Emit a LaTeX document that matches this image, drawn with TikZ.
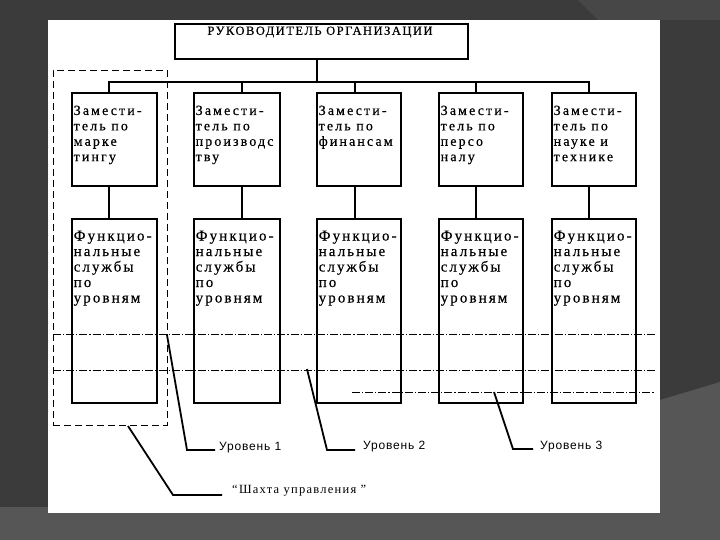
\documentclass[tikz,border=0pt]{standalone}
\usepackage{fontspec}
\setmainfont{Liberation Serif}
\newfontfamily\topfnt[LetterSpace=12,FakeBold=0.4]{Liberation Serif}
\newfontfamily\depfnt[LetterSpace=15,FakeBold=0.4]{Liberation Serif}
\newfontfamily\funfnt[LetterSpace=14,FakeBold=0.4]{Liberation Serif}
\newfontfamily\lvlfnt[LetterSpace=7]{Liberation Sans}
\newfontfamily\shfnt[LetterSpace=10]{Liberation Serif}
\definecolor{bgdark}{HTML}{3B3B3B}
\definecolor{bglight}{HTML}{565656}
\definecolor{bgmid}{HTML}{474747}
\begin{document}
\begin{tikzpicture}[x=1pt,y=-1pt,
  box/.style={draw=black, line width=1.6pt, inner sep=0pt, outer sep=0pt},
  ln/.style={line width=1.6pt, line cap=rect},
  lead/.style={line width=1.8pt},
  dashdot/.style={line width=0.7pt, dash pattern=on 8pt off 2pt on 1.2pt off 2pt},
  shaftbox/.style={draw=black, line width=0.9pt, dash pattern=on 7pt off 4pt, inner sep=0pt},
  dtext/.style={anchor=north west, align=left, inner sep=0pt, font=\depfnt\fontsize{14}{15.4}\selectfont},
  ftext/.style={anchor=north west, align=left, inner sep=0pt, font=\funfnt\fontsize{15}{15.5}\selectfont},
  lvl/.style={anchor=west, inner sep=0pt, font=\lvlfnt\fontsize{12}{14}\selectfont}]
\useasboundingbox (0,0) rectangle (720,540);
% background
\fill[bgdark] (0,0) rectangle (720,540);
\fill[bgmid] (578,0) -- (720,0) -- (720,20) -- (598,20) -- cycle;
\fill[bglight] (0,507) -- (660,507) -- (660,400) -- (720,382) -- (720,540) -- (0,540) -- cycle;
\fill[white] (48,20) rectangle (660,513);
% top box
\node[box, minimum width=293pt, minimum height=35pt] (top) at (321.5,41.5) {};
\node[inner sep=0pt, font=\topfnt\fontsize{12.5}{14}\selectfont] (toptext) at (320,32) {РУКОВОДИТЕЛЬ ОРГАНИЗАЦИИ};
% bus
\coordinate (busL) at (109,82);
\coordinate (busR) at (589,82);
\coordinate (busT) at (317,82);
\draw[ln] (busL) -- (busR);
\draw[ln] (top.south -| busT) -- (busT);
% columns
\foreach \i/\xl/\xr/\xd/\dt in {
  1/72/157/109/{Замести-\\тель по\\марке\\тингу},
  2/194/280/242/{Замести-\\тель по\\производс\\тву},
  3/317/401/355/{Замести-\\тель по\\финансам},
  4/439/523/476/{Замести-\\тель по\\персо\\налу},
  5/552/636/589/{Замести-\\тель по\\науке и\\технике}}{
  \pgfmathsetmacro{\xc}{(\xl+\xr)/2}
  \pgfmathsetmacro{\w}{\xr-\xl}
  \node[box, minimum width=\w pt, minimum height=93pt] (d\i) at (\xc,139.5) {};
  \node[box, minimum width=\w pt, minimum height=184pt] (f\i) at (\xc,311) {};
  \node[dtext] (dt\i) at (\xl+1.5,105.5) {\dt};
  \node[ftext] (ft\i) at (\xl+1.5,230.5) {Функцио-\\нальные\\службы\\по\\уровням};
  \coordinate (c\i) at (\xd,82);
  \draw[ln] (c\i) -- (d\i.north -| c\i);
  \draw[ln] (d\i.south -| c\i) -- (f\i.north -| c\i);
}
% shaft
\node[shaftbox, minimum width=114pt, minimum height=355pt] (shaft) at (110,247.5) {};
% level lines
\coordinate (l1a) at (53,334);  \coordinate (l1b) at (655,334);
\coordinate (l2a) at (53,370);  \coordinate (l2b) at (655,370);
\coordinate (l3a) at (352,392); \coordinate (l3b) at (655,392);
\draw[dashdot] (l1a) -- (l1b);
\draw[dashdot] (l2a) -- (l2b);
\draw[dashdot] (l3a) -- (l3b);
% leaders
\node[lvl] (u1) at (219,448) {Уровень 1};
\node[lvl] (u2) at (363,447) {Уровень 2};
\node[lvl] (u3) at (540,447) {Уровень 3};
\node[anchor=west, inner sep=0pt, font=\shfnt\fontsize{12.5}{14}\selectfont] (sh) at (232,491) {“Шахта управления ”};
\coordinate (p1) at (167,335); \coordinate (q1) at (187,450);
\coordinate (p2) at (307,369); \coordinate (q2) at (327,450);
\coordinate (p3) at (494,392); \coordinate (q3) at (513,449);
\coordinate (p4) at (128,426); \coordinate (q4) at (173,495);
\draw[lead] (p1) -- (q1) -- ([xshift=-4pt]u1.west |- q1);
\draw[lead] (p2) -- (q2) -- ([xshift=-8pt]u2.west |- q2);
\draw[lead] (p3) -- (q3) -- ([xshift=-7pt]u3.west |- q3);
\draw[lead] (p4) -- (q4) -- ([xshift=-10pt]sh.west |- q4);
\end{tikzpicture}
\end{document}
